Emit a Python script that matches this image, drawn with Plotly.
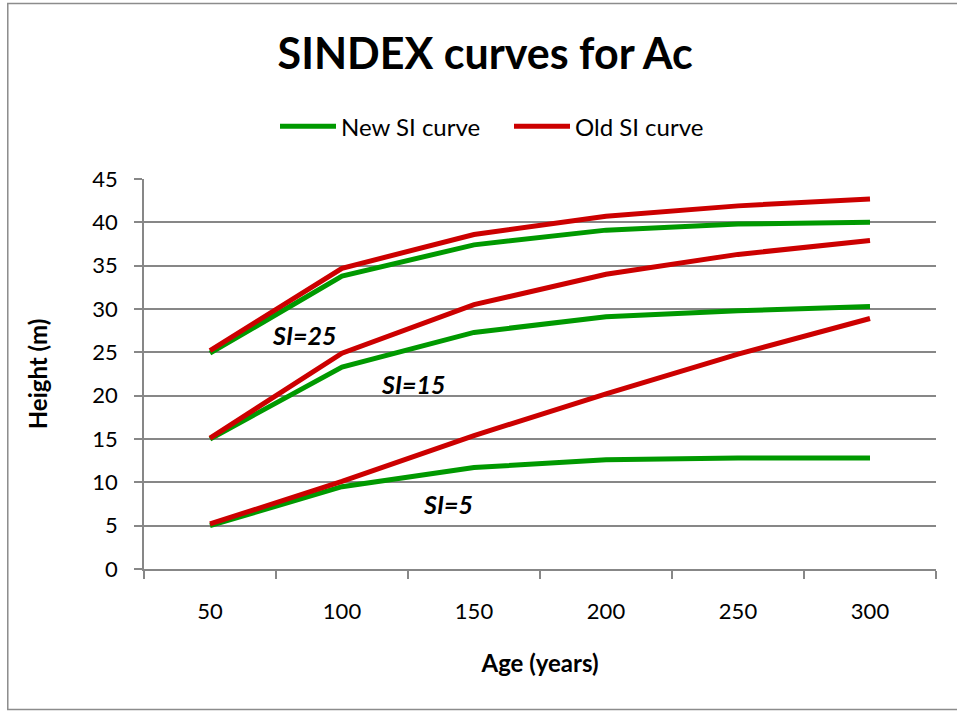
import plotly.graph_objects as go

ages = ["50", "100", "150", "200", "250", "300"]

new_si25 = [24.9, 33.8, 37.4, 39.1, 39.8, 40.0]
new_si15 = [15.0, 23.3, 27.3, 29.1, 29.8, 30.3]
new_si5 = [5.0, 9.5, 11.7, 12.6, 12.8, 12.8]

old_si25 = [25.2, 34.7, 38.6, 40.7, 41.9, 42.7]
old_si15 = [15.1, 24.9, 30.5, 34.0, 36.3, 37.9]
old_si5 = [5.2, 10.1, 15.4, 20.2, 24.8, 28.9]

labels = ["SI=25", "SI=15", "SI=5"]
label_x = [0.71, 1.54, 1.805]
label_y = [27.0, 21.35, 7.5]

GREEN = "#009900"
RED = "#CC0000"
GRID = "#878787"
FONT = "Lato"

fig = go.Figure()
for i, s in enumerate([new_si25, new_si15, new_si5]):
    fig.add_trace(go.Scatter(x=ages, y=s, mode="lines", name="New SI curve",
                             legendgroup="new", showlegend=(i == 0),
                             line=dict(color=GREEN, width=5)))
for i, s in enumerate([old_si25, old_si15, old_si5]):
    fig.add_trace(go.Scatter(x=ages, y=s, mode="lines", name="Old SI curve",
                             legendgroup="old", showlegend=(i == 0),
                             line=dict(color=RED, width=5)))

for t, x, y in zip(labels, label_x, label_y):
    fig.add_annotation(x=x, y=y, xref="x", yref="y", text=f"<b><i>{t}</i></b>",
                       showarrow=False, font=dict(family=FONT, size=25, color="black"))

fig.add_shape(type="rect", xref="paper", yref="paper",
              x0=-0.172, x1=1.3, y0=-0.3605, y1=1.45,
              line=dict(color="#8c8c8c", width=1.5), fillcolor="rgba(0,0,0,0)")

fig.update_layout(
    width=957, height=711,
    margin=dict(l=143.5, r=21, t=179, b=142),
    paper_bgcolor="white", plot_bgcolor="white",
    font=dict(family=FONT, size=22, color="black"),
    title=dict(text="<b>SINDEX curves for Ac</b>", x=0.507, xanchor="center",
               y=0.924, yanchor="middle", font=dict(family=FONT, size=43, color="black")),
    legend=dict(orientation="h", x=275 / 957, xanchor="left", xref="container",
                y=0.822, yanchor="middle", yref="container",
                font=dict(family=FONT, size=24), itemwidth=56, entrywidth=163,
                traceorder="normal", bgcolor="rgba(0,0,0,0)"),
    showlegend=True,
)
fig.update_xaxes(
    type="category", range=[-0.5, 5.5], tickson="boundaries",
    ticks="outside", ticklen=8, tickcolor=GRID, tickwidth=1.5,
    showline=True, linecolor=GRID, linewidth=1.5, showgrid=False,
    ticklabelstandoff=22, tickfont=dict(size=22),
    title=dict(text="<b>Age (years)</b>", font=dict(size=24), standoff=32),
)
fig.update_yaxes(
    range=[0, 45], dtick=5, ticks="outside", ticklen=8, tickcolor=GRID, tickwidth=1.5,
    showline=True, linecolor=GRID, linewidth=1.5,
    showgrid=True, gridcolor=GRID, gridwidth=1.5, zeroline=False,
    ticklabelstandoff=12, tickfont=dict(size=22),
    title=dict(text="<b>Height (m)</b>", font=dict(size=24), standoff=38),
)

fig.write_html("out.html", config={"displayModeBar": False},
               post_script="document.body.style.margin='0';")
